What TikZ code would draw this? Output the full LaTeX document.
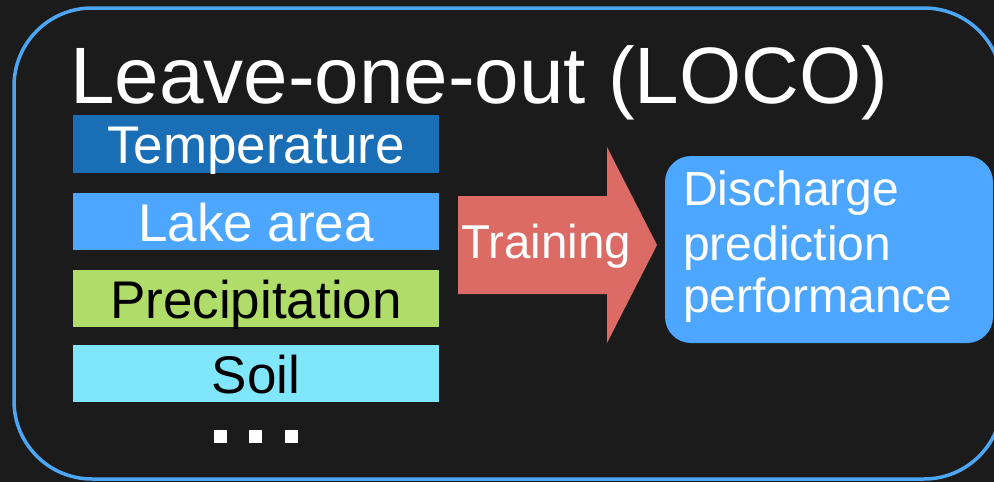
\documentclass[tikz,border=0pt]{standalone}
\usepackage{fontspec}
\setmainfont{Liberation Sans}
\begin{document}
\definecolor{bgdark}{HTML}{1B1B1B}
\definecolor{frameblue}{HTML}{4DA6F5}
\definecolor{tempblue}{HTML}{1A6EB6}
\definecolor{lakeblue}{HTML}{4DA6FF}
\definecolor{precipgreen}{HTML}{B0DC6A}
\definecolor{soilcyan}{HTML}{80E6FB}
\definecolor{trainred}{HTML}{DC6B65}
\definecolor{resultblue}{HTML}{4DA6FF}
\begin{tikzpicture}[x=1pt,y=-1pt,
  featbox/.style={draw=none,fill=#1},
  feattext/.style={anchor=base,inner sep=0pt,font=\fontsize{53}{53}\selectfont},
  resulttext/.style={anchor=base west,inner sep=0pt,text=white,font=\fontsize{48}{48}\selectfont},
  dotsq/.style={fill=white,draw=none}]
  % canvas
  \useasboundingbox (0,0) rectangle (994,482);
  \fill[bgdark] (0,0) rectangle (994,482);
  \begin{scope}
    \clip (0,0) rectangle (994,482);
    \draw[frameblue,line width=3.5pt,rounded corners=78pt] (14,8) rectangle (1002,479);
  \end{scope}

  % title
  \node[anchor=base west,inner sep=0pt,text=white,font=\fontsize{80}{80}\selectfont]
    (title) at (70,103) {Leave-one-out (LOCO)};

  % feature boxes
  \fill[featbox=tempblue]    (73,115) rectangle (439,173);
  \fill[featbox=lakeblue]    (73,193) rectangle (439,250);
  \fill[featbox=precipgreen] (73,270) rectangle (439,327);
  \fill[featbox=soilcyan]    (73,345) rectangle (439,402);
  \node[feattext,text=white] (temp)   at (256,163) {Temperature};
  \node[feattext,text=white] (lake)   at (256,241) {Lake area};
  \node[feattext,text=black] (precip) at (256,318) {Precipitation};
  \node[feattext,text=black] (soil)   at (256,393) {Soil};

  % ellipsis squares
  \fill[dotsq] (214,430) rectangle (227,443);
  \fill[dotsq] (249,430) rectangle (262,443);
  \fill[dotsq] (285,430) rectangle (298,443);

  % training arrow
  \fill[trainred] (458,196) -- (607,196) -- (607,147) -- (657,245)
    -- (607,343) -- (607,294) -- (458,294) -- cycle;
  \node[anchor=base,inner sep=0pt,text=white,font=\fontsize{47.5}{47.5}\selectfont]
    (train) at (546,258) {Training};

  % result box
  \fill[resultblue,rounded corners=26pt] (665,156) rectangle (993,343);
  \node[resulttext] (r1) at (683,205) {Discharge};
  \node[resulttext] (r2) at (683,260) {prediction};
  \node[resulttext] (r3) at (683,312) {performance};
\end{tikzpicture}
\end{document}
